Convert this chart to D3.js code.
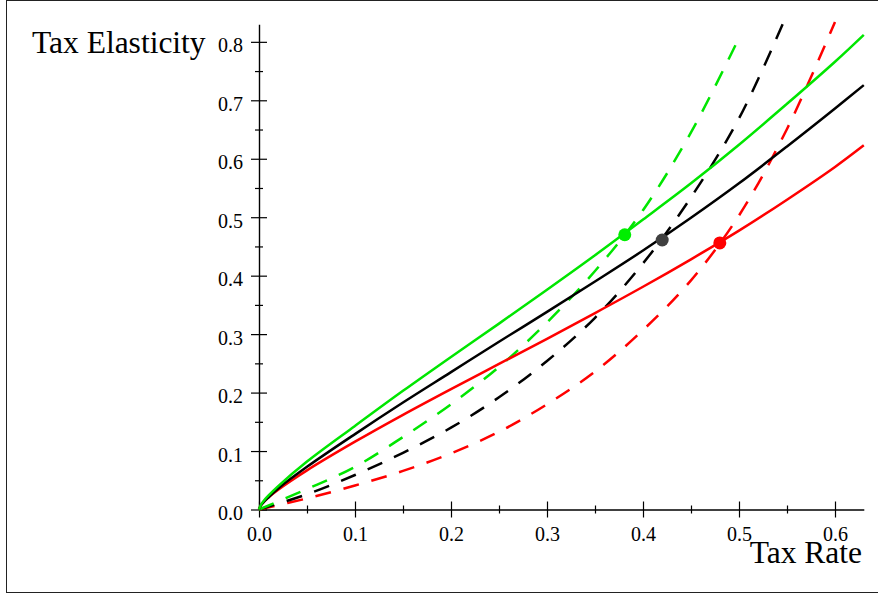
<!DOCTYPE html>
<html>
<head>
<meta charset="utf-8">
<script src="https://cdn.jsdelivr.net/npm/d3@7"></script>
<style>
  html, body { margin: 0; padding: 0; background: #fff; }
  svg { display: block; }
  text { font-family: "Liberation Serif", "Times New Roman", serif; fill: #000; }
</style>
</head>
<body>
<svg id="chart" width="878" height="595"></svg>
<script>
// ---- data ----
const solidT = [0, 0.002, 0.005, 0.01, 0.02, 0.05, 0.1, 0.15, 0.2, 0.25, 0.3, 0.35, 0.4, 0.45, 0.5, 0.55, 0.6, 0.63];
const greenSolid = [0, 0.008, 0.015, 0.024, 0.040, 0.082, 0.143, 0.203, 0.261, 0.318, 0.376, 0.435, 0.496, 0.558, 0.624, 0.694, 0.766, 0.812];
const blackSolid = [0, 0.007, 0.013, 0.021, 0.036, 0.073, 0.129, 0.183, 0.235, 0.287, 0.338, 0.390, 0.443, 0.499, 0.558, 0.621, 0.686, 0.726];
const redSolid   = [0, 0.007, 0.013, 0.021, 0.034, 0.067, 0.116, 0.162, 0.206, 0.249, 0.292, 0.336, 0.381, 0.428, 0.477, 0.530, 0.586, 0.623];

const greenDashT = [0, 0.05, 0.1, 0.15, 0.2, 0.25, 0.3, 0.35, 0.4, 0.45, 0.5, 0.502];
const greenDash  = [0, 0.035, 0.073, 0.124, 0.180, 0.244, 0.320, 0.408, 0.512, 0.645, 0.806, 0.812];
const blackDashT = [0, 0.05, 0.1, 0.15, 0.2, 0.25, 0.3, 0.35, 0.4, 0.45, 0.5, 0.546];
const blackDash  = [0, 0.026, 0.059, 0.097, 0.140, 0.192, 0.254, 0.328, 0.421, 0.534, 0.669, 0.832];
const redDashT   = [0, 0.05, 0.1, 0.15, 0.2, 0.25, 0.3, 0.35, 0.4, 0.45, 0.5, 0.55, 0.6];
const redDash    = [0, 0.019, 0.041, 0.066, 0.096, 0.133, 0.180, 0.236, 0.307, 0.392, 0.503, 0.651, 0.834];

const pointNames = ["green", "black", "red"];
const pointT = [0.381, 0.42, 0.48];
const pointE = [0.470, 0.461, 0.456];

const xTicks = [0, 0.1, 0.2, 0.3, 0.4, 0.5, 0.6];
const xMinor = [0.05, 0.15, 0.25, 0.35, 0.45, 0.55];
const yTicks = [0, 0.1, 0.2, 0.3, 0.4, 0.5, 0.6, 0.7, 0.8];
const yMinor = [0.05, 0.15, 0.25, 0.35, 0.45, 0.55, 0.65, 0.75];

const xTitle = "Tax Rate";
const yTitle = "Tax Elasticity";

// ---- drawing ----
const colors = { green: "#00e600", black: "#000000", red: "#ff0000" };
const dotColors = { green: "#00ee00", black: "#404040", red: "#ff0000" };

const svg = d3.select("#chart");

// frame
svg.append("rect")
  .attr("x", 6.5).attr("y", 0.5).attr("width", 880).attr("height", 592)
  .attr("fill", "none").attr("stroke", "#222").attr("stroke-width", 1);

const x = d3.scaleLinear().domain([0, 0.63]).range([259, 863.8]);
const y = d3.scaleLinear().domain([0, 0.83]).range([509.5, 24.3]);

// x axis
const gx = svg.append("g").attr("transform", `translate(0,${y(0)})`);
gx.call(d3.axisBottom(x).tickValues(xTicks).tickSize(8).tickSizeOuter(0).tickFormat(d3.format(".1f")));
gx.selectAll(".tick line").attr("y1", -8).attr("y2", 8).attr("stroke-width", 1.2);
gx.selectAll(".tick text").attr("y", 31).attr("dy", null)
  .style("font-size", "20px").style("font-family", '"Liberation Serif", serif');
gx.select(".domain").attr("stroke-width", 1.4);
const gxm = svg.append("g").attr("transform", `translate(0,${y(0)})`);
gxm.call(d3.axisBottom(x).tickValues(xMinor).tickSize(4).tickFormat(""));
gxm.selectAll(".tick line").attr("y1", -4).attr("y2", 4).attr("stroke-width", 1.2);
gxm.select(".domain").remove();

// y axis
const gy = svg.append("g").attr("transform", `translate(${x(0)},0)`);
gy.call(d3.axisLeft(y).tickValues(yTicks).tickSize(8).tickSizeOuter(0).tickFormat(d3.format(".1f")));
gy.selectAll(".tick line").attr("x1", -8).attr("x2", 8).attr("stroke-width", 1.2);
gy.selectAll(".tick text").attr("x", -16).attr("y", 10).attr("dy", null)
  .style("font-size", "20px").style("font-family", '"Liberation Serif", serif');
gy.select(".domain").attr("stroke-width", 1.4);
const gym = svg.append("g").attr("transform", `translate(${x(0)},0)`);
gym.call(d3.axisLeft(y).tickValues(yMinor).tickSize(4).tickFormat(""));
gym.selectAll(".tick line").attr("x1", -4).attr("x2", 4).attr("stroke-width", 1.2);
gym.select(".domain").remove();

// titles
svg.append("text").attr("x", 32).attr("y", 53).style("font-size", "31.5px").text(yTitle);
svg.append("text").attr("x", 862).attr("y", 563).attr("text-anchor", "end").style("font-size", "31.5px").text(xTitle);

// curves
const line = d3.line().x(d => x(d[0])).y(d => y(d[1])).curve(d3.curveCatmullRom.alpha(0.5));
const zip = (ts, vs) => ts.map((t, i) => [t, vs[i]]);

const dashed = [
  { c: "red", d: zip(redDashT, redDash) },
  { c: "black", d: zip(blackDashT, blackDash) },
  { c: "green", d: zip(greenDashT, greenDash) }
];
const solid = [
  { c: "red", d: zip(solidT, redSolid) },
  { c: "black", d: zip(solidT, blackSolid) },
  { c: "green", d: zip(solidT, greenSolid) }
];

svg.selectAll("path.dash").data(dashed).enter().append("path")
  .attr("class", "dash")
  .attr("d", s => line(s.d))
  .attr("fill", "none").attr("stroke", s => colors[s.c])
  .attr("stroke-width", 2.5).attr("stroke-dasharray", "16,13");

svg.selectAll("path.solid").data(solid).enter().append("path")
  .attr("class", "solid")
  .attr("d", s => line(s.d))
  .attr("fill", "none").attr("stroke", s => colors[s.c])
  .attr("stroke-width", 2.5);

// points
svg.selectAll("circle.pt").data(pointNames).enter().append("circle")
  .attr("class", "pt")
  .attr("cx", (d, i) => x(pointT[i])).attr("cy", (d, i) => y(pointE[i]))
  .attr("r", 6.5).attr("fill", d => dotColors[d]);
</script>
</body>
</html>
